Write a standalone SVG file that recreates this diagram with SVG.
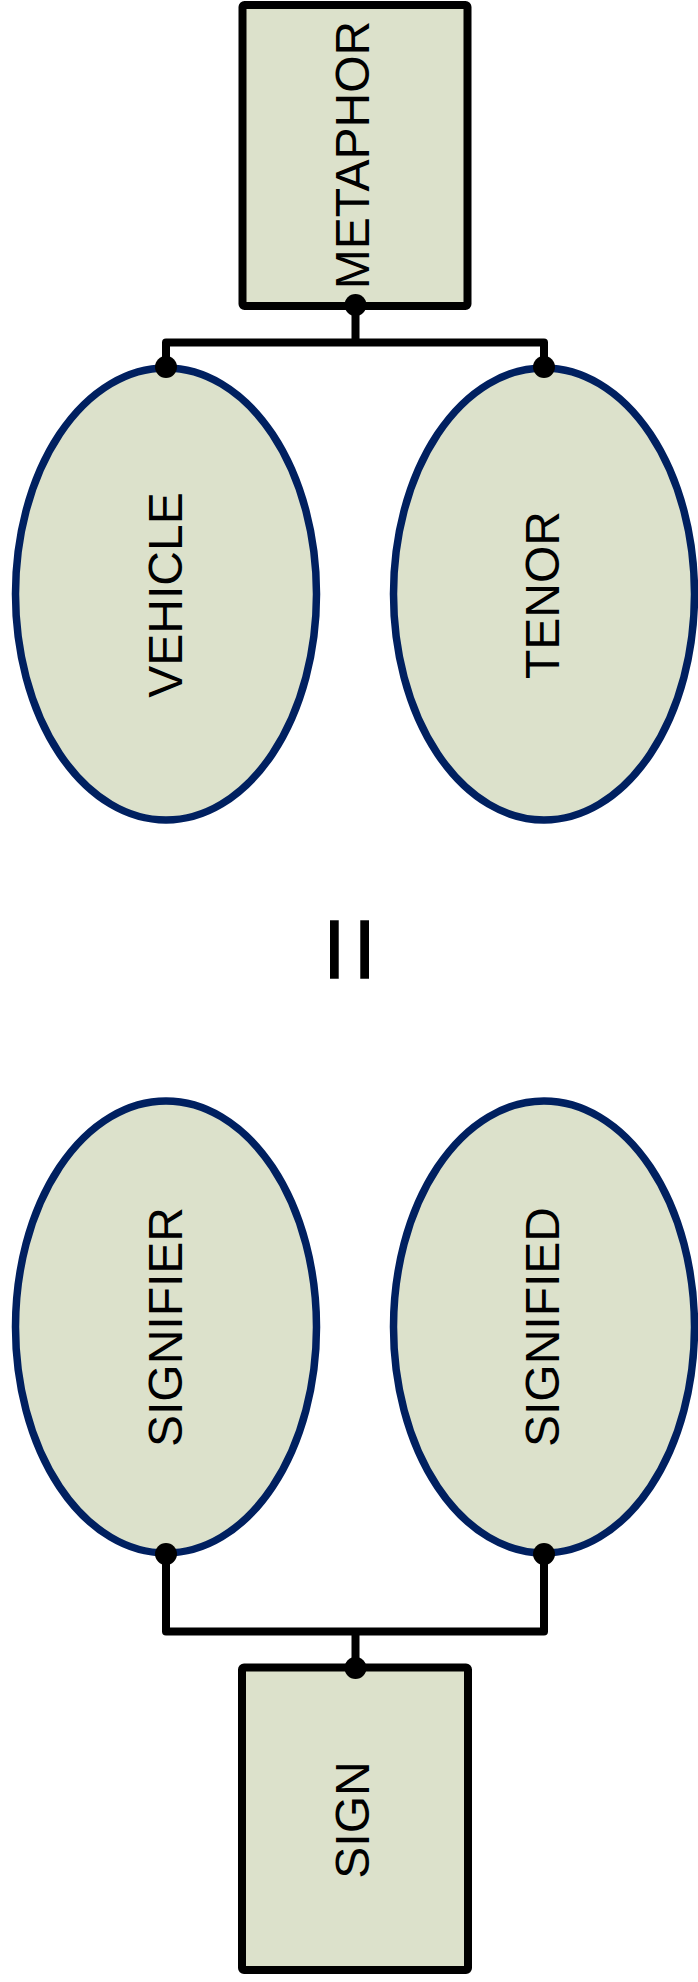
<svg xmlns="http://www.w3.org/2000/svg" width="698" height="1982" viewBox="0 0 698 1982">
<style>
.box{fill:#DCE1CB;stroke:#000;stroke-width:8;stroke-linejoin:round}
.ell{fill:#DCE1CB;stroke:#002060;stroke-width:7.5}
.lbl{font-family:"Liberation Sans",Arial,sans-serif;font-size:48px;fill:#000;text-anchor:middle}
.conn{fill:none;stroke:#000;stroke-width:8;stroke-linejoin:round}
.dot{fill:#000}
</style>
<rect width="698" height="1982" fill="#fff"/>
<g id="metaphor">
<rect class="box" x="242.5" y="5" width="225" height="301" rx="2"/>
<text class="lbl" transform="translate(369,155) rotate(-90)">METAPHOR</text>
</g>
<g id="vehicle">
<ellipse class="ell" cx="166" cy="594" rx="150.5" ry="226"/>
<text class="lbl" transform="translate(181.5,595) rotate(-90)">VEHICLE</text>
</g>
<g id="tenor">
<ellipse class="ell" cx="544" cy="594" rx="150.5" ry="226"/>
<text class="lbl" transform="translate(559,595) rotate(-90)">TENOR</text>
</g>
<g id="equals">
<text font-family="'Liberation Sans',Arial,sans-serif" font-size="120" text-anchor="middle" transform="translate(389,949.5) rotate(-90)">=</text>
</g>
<g id="signifier">
<ellipse class="ell" cx="166" cy="1327" rx="150.5" ry="226"/>
<text class="lbl" transform="translate(181.5,1327) rotate(-90)">SIGNIFIER</text>
</g>
<g id="signified">
<ellipse class="ell" cx="544" cy="1327" rx="150.5" ry="226"/>
<text class="lbl" transform="translate(559,1327) rotate(-90)">SIGNIFIED</text>
</g>
<g id="sign">
<rect class="box" x="242" y="1667.5" width="226" height="302.5" rx="2"/>
<text class="lbl" transform="translate(369,1820) rotate(-90)">SIGN</text>
</g>
<g id="connectors">
<path class="conn" d="M355.5,306 V342.5 M166,367 V342.5 H544 V367"/>
<path class="conn" d="M166,1553 V1631.5 H544 V1553 M355.5,1631.5 V1668"/>
<circle class="dot" cx="355.5" cy="305" r="11"/>
<circle class="dot" cx="166" cy="367" r="11"/>
<circle class="dot" cx="544" cy="367" r="11"/>
<circle class="dot" cx="166" cy="1554" r="11"/>
<circle class="dot" cx="544" cy="1554" r="11"/>
<circle class="dot" cx="355.5" cy="1668" r="11"/>
</g>
</svg>
